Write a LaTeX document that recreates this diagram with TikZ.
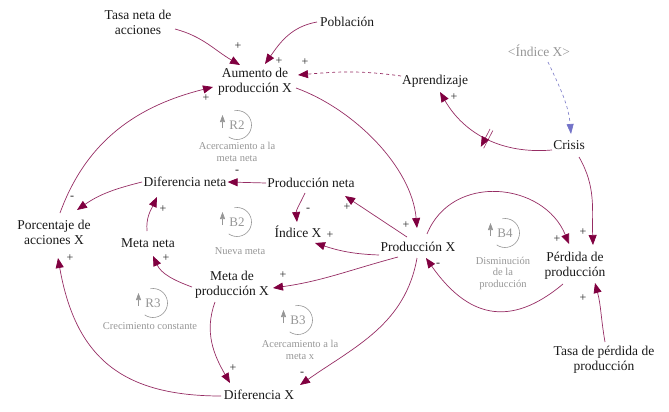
\documentclass[tikz,border=0pt]{standalone}
\usepackage{fontspec}
\setmainfont{Liberation Serif}
\usetikzlibrary{arrows.meta,calc,decorations.markings}
\definecolor{linkc}{RGB}{150,45,100}
\definecolor{tipc}{RGB}{128,0,64}
\definecolor{loopc}{RGB}{150,150,150}
\definecolor{infoc}{RGB}{135,135,205}
\definecolor{infotip}{RGB}{115,115,200}
\tikzset{
  var/.style={font=\fontsize{13.5}{15}\selectfont, align=center, inner sep=1pt, text=black!90},
  shadowvar/.style={var, text=loopc},
  link/.style={draw=linkc, line width=0.7pt, -{Triangle[length=10pt,width=8pt,color=tipc]}},
  infolink/.style={link, dashed},
  shadowlink/.style={draw=infoc, line width=0.7pt, dashed, -{Triangle[length=10pt,width=7pt,color=infotip]}},
  sign/.style={font=\fontsize{12}{12}\selectfont, inner sep=0pt, text=black!85},
  loopname/.style={font=\fontsize{13}{14}\selectfont, text=loopc, inner sep=0pt},
  looptext/.style={font=\fontsize{10.5}{11.5}\selectfont, text=loopc, align=center, inner sep=0pt},
  delayed/.style={postaction={decorate}, decoration={markings, mark=at position #1 with {
      \draw[linkc, line width=0.6pt] (-1.6pt,-10pt) -- (-1.6pt,10pt) (1.6pt,-10pt) -- (1.6pt,10pt);}}},
  loopsym/.pic={
    \draw[loopc, line width=0.6pt] (100:14.5pt) arc[start angle=100, end angle=-125, radius=14.5pt];
    \draw[loopc, line width=0.6pt, -{Triangle[length=7pt,width=5pt]}] (-14.5pt,-3pt) -- (-14.5pt,10pt);
    \node[loopname] at (0,0) {#1};
  },
}
\begin{document}
\begin{tikzpicture}[x=1pt,y=1pt]
\useasboundingbox (0,0) rectangle (669,-412);

% variables
\node[var] (tasa) at (138,-22) {Tasa neta de\\acciones};
\node[var] (pobl) at (347,-22) {Población};
\node[var] (aum) at (255,-82) {Aumento de\\producción X};
\node[shadowvar] (indx) at (539,-51) {\textless Índice X\textgreater};
\node[var] (apr) at (435,-81) {Aprendizaje};
\node[var] (crisis) at (569,-145) {Crisis};
\node[var] (dneta) at (185,-182) {Diferencia neta};
\node[var] (pneta) at (311,-183) {Producción neta};
\node[var] (porc) at (54,-232) {Porcentaje de\\acciones X};
\node[var] (mneta) at (148,-243) {Meta neta};
\node[var] (indice) at (298,-232) {Índice X};
\node[var] (prodx) at (418,-247) {Producción X};
\node[var] (perd) at (575,-266) {Pérdida de\\producción};
\node[var] (mprod) at (232,-285) {Meta de\\producción X};
\node[var] (difx) at (259,-395) {Diferencia X};
\node[var] (tasap) at (604,-360) {Tasa de pérdida de\\producción};

% causal links
\draw[link] ($(tasa)+(37,-7)$) to[out=-15,in=150] ($(aum)+(-15,17)$);
\draw[link] ($(pobl)+(-30,0)$) to[out=190,in=55] ($(aum)+(10,18)$);
\draw[infolink] ($(apr)+(-34,5)$) to[out=172,in=5] ($(aum)+(43,7)$);
\draw[link] ($(porc)+(6,19)$) to[out=70,in=194] ($(aum)+(-42,-5)$);
\draw[link] ($(aum)+(41,-6)$) to[out=-20,in=95,looseness=0.85] ($(prodx)+(-1,19)$);
\draw[link] ($(prodx)+(-11,10)$) -- ($(pneta)+(34,-13)$);
\draw[link] (pneta.west) -- (dneta.east);
\draw[link] ($(pneta)+(-6,-10)$) to[out=-115,in=95] ($(indice)+(-1,10)$);
\draw[link] ($(prodx)+(-39,-8)$) to[out=178,in=-18] ($(indice)+(17,-11)$);
\draw[link] ($(dneta)+(-43,0)$) to[out=194,in=35] ($(porc)+(23,22)$);
\draw[link] ($(mneta)+(-1,12)$) to[out=95,in=-115] ($(dneta)+(-28,-15)$);
\draw[link] ($(mprod)+(-40,-2)$) to[out=160,in=-65] ($(mneta)+(5,-13)$);
\draw[link] ($(difx)+(-38,-1)$) to[out=180,in=-80,looseness=1.2] ($(porc)+(4,-26)$);
\draw[link] ($(prodx)+(-20,-10)$) to[out=195,in=8] ($(mprod)+(41,-3)$);
\draw[link] ($(mprod)+(-17,-17)$) to[out=-110,in=120] ($(difx)+(-29,12)$);
\draw[link] ($(prodx)+(-1,-11)$) to[out=-100,in=35] ($(difx)+(41,10)$);
\draw[link] ($(prodx)+(9,13)$) to[out=68,in=112,looseness=1.2] ($(perd)+(-6,22)$);
\draw[link] ($(perd)+(-12,-18)$) to[out=-140,in=-55,looseness=1.3] ($(prodx)+(8,-11)$);
\draw[link] ($(crisis)+(10,-12)$) to[out=-60,in=92] ($(perd)+(18,21)$);
\draw[link] ($(tasap)+(1,18)$) to[out=100,in=-75] ($(perd)+(20,-17)$);
\draw[link, delayed=0.5] ($(crisis)+(-17,-5)$) to[out=185,in=-60] ($(apr)+(5,-11)$);
\draw[shadowlink] ($(indx)+(9,-11)$) to[out=-65,in=95] ($(crisis)+(2,11)$);

% link polarities
\node[sign] at (238,-46) {+};
\node[sign] at (279,-61) {+};
\node[sign] at (305,-62) {+};
\node[sign] at (206,-98) {+};
\node[sign] at (406,-225) {+};
\node[sign] at (347,-207) {+};
\node[sign] at (237,-172) {-};
\node[sign] at (308,-210) {-};
\node[sign] at (330,-235) {+};
\node[sign] at (72,-198) {-};
\node[sign] at (163,-209) {+};
\node[sign] at (166,-258) {+};
\node[sign] at (70,-258) {+};
\node[sign] at (283,-275) {+};
\node[sign] at (233,-368) {+};
\node[sign] at (302,-374) {-};
\node[sign] at (557,-239) {+};
\node[sign] at (583,-232) {+};
\node[sign] at (438,-265) {-};
\node[sign] at (583,-298) {+};
\node[sign] at (454,-97) {+};

% feedback loops
\pic at (237,-125) {loopsym=R2};
\node[looptext] (r2txt) at (237,-152) {Acercamiento a la\\meta neta};
\pic at (237,-222) {loopsym=B2};
\node[looptext] (b2txt) at (240,-251) {Nueva meta};
\pic at (505,-233) {loopsym=B4};
\node[looptext] (b4txt) at (503,-273) {Disminución\\de la\\producción};
\pic at (153,-303) {loopsym=R3};
\node[looptext] (r3txt) at (150,-326) {Crecimiento constante};
\pic at (298,-320) {loopsym=B3};
\node[looptext] (b3txt) at (300,-350) {Acercamiento a la\\meta x};
\end{tikzpicture}
\end{document}
